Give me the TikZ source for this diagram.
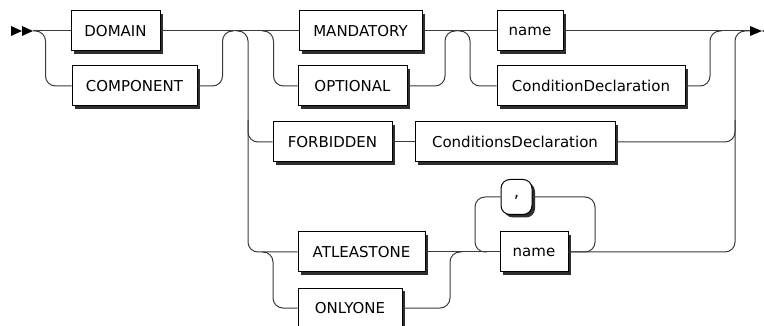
\documentclass[tikz,border=0pt]{standalone}
\usepackage{fontspec}
\setmainfont{DejaVu Sans}
\usetikzlibrary{shadows}
\definecolor{railgray}{HTML}{3A3A3A}
\definecolor{shadowgray}{HTML}{2E2E2E}
\begin{document}
\begin{tikzpicture}[x=1pt,y=-1pt,
  rail/.style={draw=railgray, line width=1pt, rounded corners=10pt},
  box/.style={draw=black, line width=1pt, fill=white, inner sep=0pt,
    minimum height=40pt, font=\fontsize{15}{18}\selectfont,
    drop shadow={shadow xshift=3pt, shadow yshift=-3pt, fill=shadowgray, opacity=1}},
  term/.style={box, rounded corners=9pt, minimum height=35pt},
  marker/.style={fill=black, draw=none}
]
\useasboundingbox (0,0) rectangle (764,326);

% start and end markers
\fill[marker] (11,26) -- (22,31) -- (11,36) -- cycle;
\fill[marker] (22,26) -- (33,31) -- (22,36) -- cycle;
\fill[marker] (750,26) -- (762,31) -- (750,36) -- cycle;
\fill[marker] (774,26) -- (762,31) -- (774,36) -- cycle;
\coordinate (start) at (33,31);
\coordinate (finish) at (750,31);

% boxes
\node[box, minimum width=89pt]  (domain)    at (115.5,31) {DOMAIN};
\node[box, minimum width=125pt] (component) at (134.5,86) {COMPONENT};
\node[box, minimum width=123pt] (mandatory) at (360.5,31) {MANDATORY};
\node[box, minimum width=109pt] (optional)  at (352.5,86) {OPTIONAL};
\node[box, minimum width=66pt]  (nameA)     at (530,31)   {name};
\node[box, minimum width=188pt] (conddecl)  at (591,86)   {ConditionDeclaration};
\node[box, minimum width=119pt] (forbidden) at (332.5,142) {FORBIDDEN};
\node[box, minimum width=200pt] (condsdecl) at (515,142)  {ConditionsDeclaration};
\node[box, minimum width=127pt] (atleast)   at (361.5,252) {ATLEASTONE};
\node[box, minimum width=104pt] (onlyone)   at (350,308)  {ONLYONE};
\node[box, minimum width=68pt]  (nameB)     at (534,252)  {name};
\node[term, minimum width=31pt, font=\fontsize{17}{18}\selectfont] (comma) at (516.5,197) {,};

% junction points
\coordinate (jOuter)  at (248,31);
\coordinate (jMand)   at (273.5,31);
\coordinate (jLow)    at (273,252);
\coordinate (jRight)  at (735,31);

% DOMAIN | COMPONENT
\draw[rail] (start) -- (domain.west);
\draw[rail] (start) -- (45.5,31) -- (45.5,86) -- (component.west);
\draw[rail] (domain.east) -- (mandatory.west);
\draw[rail] (component.east) -- (222.5,86) -- (222.5,31) -- (234,31);

% outer choice, lower branches
\draw[rail] (236,31) -- (jOuter) -- (248,252) -- (atleast.west);
\draw[rail] (248,120) -- (248,142) -- (forbidden.west);

% MANDATORY | OPTIONAL
\draw[rail] (262,31) -- (jMand) -- (273.5,86) -- (optional.west);
\draw[rail] (optional.east) -- (445,86) -- (445,31) -- (457,31);

% name | ConditionDeclaration
\draw[rail] (mandatory.east) -- (nameA.west);
\draw[rail] (458,31) -- (470,31) -- (470,86) -- (conddecl.west);
\draw[rail] (nameA.east) -- (finish);
\draw[rail] (conddecl.east) -- (710,86) -- (710,31) -- (722,31);

% FORBIDDEN ConditionsDeclaration
\draw[rail] (forbidden.east) -- (condsdecl.west);
\draw[rail] (condsdecl.east) -- (735,142) -- (735,120);

% ATLEASTONE | ONLYONE
\draw[rail] (262,252) -- (jLow) -- (273,308) -- (onlyone.west);
\draw[rail] (atleast.east) -- (nameB.west);
\draw[rail] (onlyone.east) -- (450,308) -- (450,252) -- (462,252);

% name list separated by commas
\draw[rail] (nameB.east) -- (595,252) -- (595,197) -- (comma.east);
\draw[rail] (comma.west) -- (475,197) -- (475,252) -- (487,252);
\draw[rail] (nameB.east) -- (735,252) -- (jRight) -- (finish);
\end{tikzpicture}
\end{document}
